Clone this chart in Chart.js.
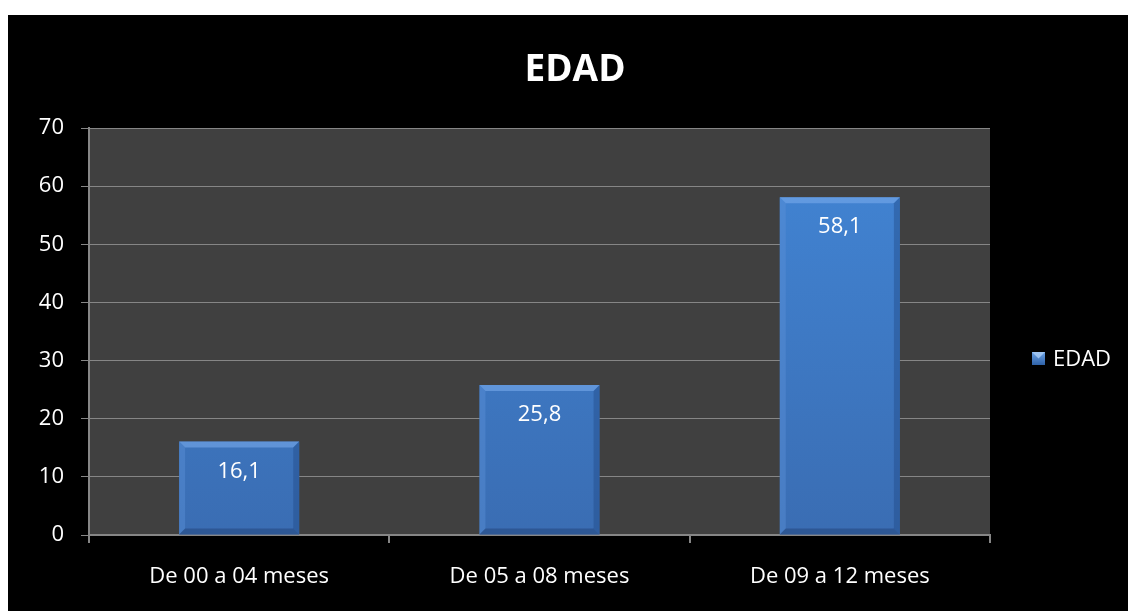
<!DOCTYPE html>
<html>
<head>
<meta charset="utf-8">
<script src="https://cdn.jsdelivr.net/npm/chart.js@4"></script>
<style>
    html, body { margin: 0; padding: 0; background: #ffffff; }
    .chart-container {
        position: absolute;
        left: 8px;
        top: 15px;
        width: 1120px;
        height: 596px;
        background: #000000;
    }
</style>
</head>
<body>
<div class="chart-container">
    <canvas id="edadChart" width="1120" height="596"></canvas>
</div>
<script>
// Chart data
const categories = ['De 00 a 04 meses', 'De 05 a 08 meses', 'De 09 a 12 meses'];
const edadValues = [16.1, 25.8, 58.1];
const seriesName = 'EDAD';
const titleText = 'EDAD';
const yTicks = [0, 10, 20, 30, 40, 50, 60, 70];

const FONT = "'Open Sans', 'Noto Sans', sans-serif";
const GRID = '#868686';

function barFill(context) {
    const chart = context.chart;
    const area = chart.chartArea;
    if (!area) return '#3f7cc6';
    const g = chart.ctx.createLinearGradient(0, area.top, 0, area.bottom);
    g.addColorStop(0, '#4286d6');
    g.addColorStop(1, '#3a6db3');
    return g;
}

// bevel edges on the bars, like the office 3D style
const bevelPlugin = {
    id: 'bevel',
    afterDatasetsDraw(chart) {
        const ctx = chart.ctx;
        const b = 6;
        chart.getDatasetMeta(0).data.forEach(bar => {
            const l = bar.x - bar.width / 2, r = bar.x + bar.width / 2;
            const t = bar.y, btm = bar.base;
            ctx.save();
            // top
            ctx.fillStyle = 'rgba(120,170,235,0.6)';
            ctx.beginPath();
            ctx.moveTo(l, t); ctx.lineTo(r, t); ctx.lineTo(r - b, t + b); ctx.lineTo(l + b, t + b);
            ctx.closePath(); ctx.fill();
            // left
            ctx.fillStyle = 'rgba(90,145,215,0.45)';
            ctx.beginPath();
            ctx.moveTo(l, t); ctx.lineTo(l + b, t + b); ctx.lineTo(l + b, btm - b); ctx.lineTo(l, btm);
            ctx.closePath(); ctx.fill();
            // right
            ctx.fillStyle = 'rgba(30,70,130,0.4)';
            ctx.beginPath();
            ctx.moveTo(r, t); ctx.lineTo(r - b, t + b); ctx.lineTo(r - b, btm - b); ctx.lineTo(r, btm);
            ctx.closePath(); ctx.fill();
            // bottom
            ctx.fillStyle = 'rgba(30,60,110,0.45)';
            ctx.beginPath();
            ctx.moveTo(l, btm); ctx.lineTo(l + b, btm - b); ctx.lineTo(r - b, btm - b); ctx.lineTo(r, btm);
            ctx.closePath(); ctx.fill();
            ctx.restore();
        });
    }
};

// value labels inside the bars, decimal comma
const valueLabels = {
    id: 'valueLabels',
    afterDatasetsDraw(chart) {
        const ctx = chart.ctx;
        const meta = chart.getDatasetMeta(0);
        ctx.save();
        ctx.fillStyle = '#ffffff';
        ctx.font = '22px ' + FONT;
        ctx.textAlign = 'center';
        ctx.textBaseline = 'middle';
        meta.data.forEach((bar, i) => {
            const txt = edadValues[i].toFixed(1).replace('.', ',');
            ctx.fillText(txt, bar.x, bar.y + 30);
        });
        ctx.restore();
    }
};

// title centred on the whole chart box, legend on the right side
const headerAndLegend = {
    id: 'headerAndLegend',
    afterDraw(chart) {
        const ctx = chart.ctx;
        ctx.save();
        ctx.fillStyle = '#ffffff';
        ctx.font = 'bold 37px ' + FONT;
        ctx.textAlign = 'center';
        ctx.textBaseline = 'middle';
        ctx.fillText(titleText, 567, 55);

        const x = 1024, y = 337, s = 13;
        const g = ctx.createLinearGradient(0, y, 0, y + s);
        g.addColorStop(0, '#6aa2e6');
        g.addColorStop(1, '#2f62a8');
        ctx.fillStyle = g;
        ctx.fillRect(x, y, s, s);
        ctx.fillStyle = 'rgba(170,205,245,0.8)';
        ctx.beginPath();
        ctx.moveTo(x, y); ctx.lineTo(x + s, y); ctx.lineTo(x + s / 2, y + s / 2);
        ctx.closePath(); ctx.fill();
        ctx.fillStyle = '#ffffff';
        ctx.font = '22px ' + FONT;
        ctx.textAlign = 'left';
        ctx.fillText(seriesName, x + s + 8, y + s / 2 + 1);
        ctx.restore();
    }
};

// plot area background
const plotBg = {
    id: 'plotBg',
    beforeDraw(chart) {
        const a = chart.chartArea;
        chart.ctx.save();
        chart.ctx.fillStyle = '#404040';
        chart.ctx.fillRect(a.left, a.top, a.right - a.left, a.bottom - a.top);
        chart.ctx.restore();
    }
};

const ctx = document.getElementById('edadChart');
new Chart(ctx, {
    type: 'bar',
    data: {
        labels: categories,
        datasets: [{
            label: seriesName,
            data: edadValues,
            backgroundColor: barFill,
            borderWidth: 0,
            categoryPercentage: 1.0,
            barPercentage: 0.4
        }]
    },
    options: {
        responsive: false,
        animation: false,
        layout: { padding: { left: 0, right: 138, top: 113, bottom: 0 } },
        plugins: {
            legend: { display: false },
            tooltip: { enabled: false },
            title: { display: false }
        },
        scales: {
            y: {
                min: 0,
                max: 70,
                afterFit(scale) { scale.width = 81; },
                afterBuildTicks(scale) { scale.ticks = yTicks.map(v => ({ value: v })); },
                ticks: {
                    color: '#ffffff',
                    font: { family: FONT, size: 22 },
                    padding: 17
                },
                grid: { color: GRID, lineWidth: 1, tickLength: 8 },
                border: { color: GRID, width: 2 }
            },
            x: {
                afterFit(scale) { scale.height = 76; },
                ticks: {
                    color: '#ffffff',
                    font: { family: FONT, size: 22 },
                    padding: 21
                },
                grid: { drawOnChartArea: false, color: GRID, tickLength: 8, lineWidth: 2 },
                border: { color: GRID, width: 2 }
            }
        }
    },
    plugins: [plotBg, bevelPlugin, valueLabels, headerAndLegend]
});
</script>
</body>
</html>
